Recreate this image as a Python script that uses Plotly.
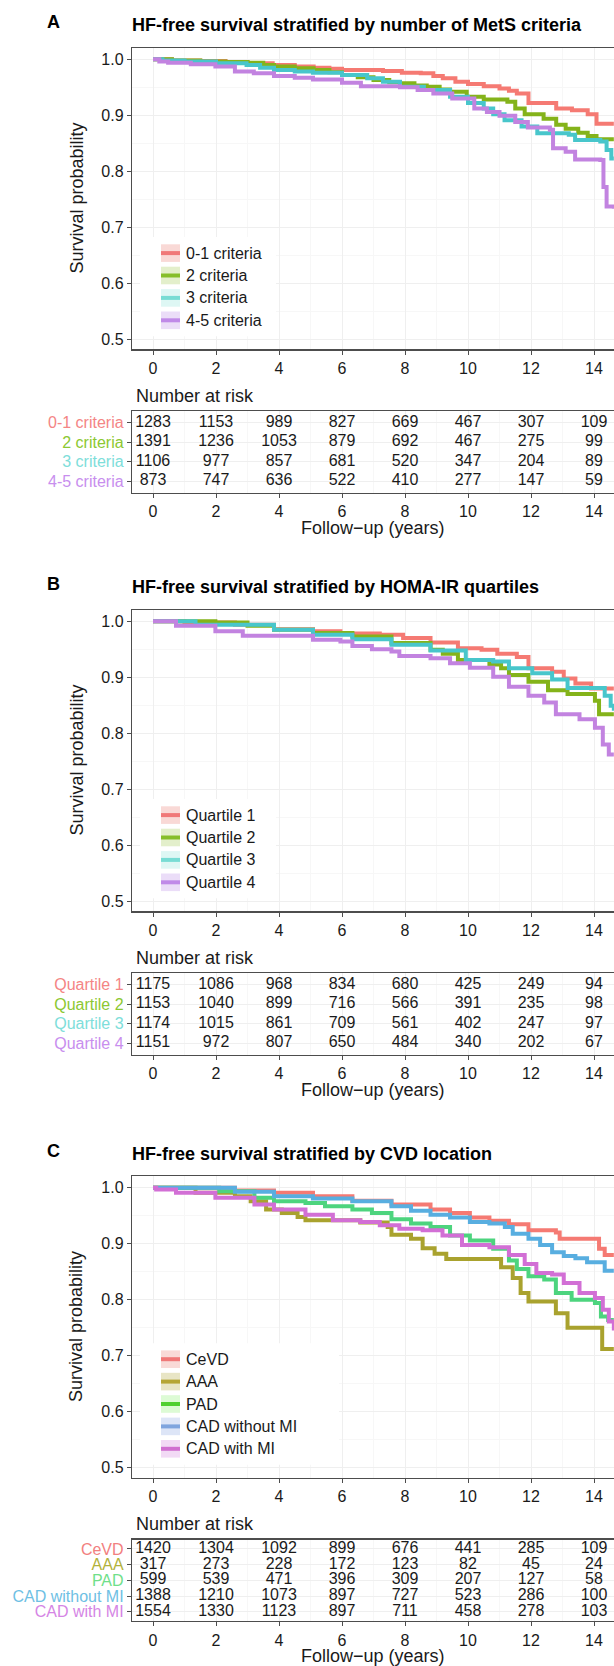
import plotly.graph_objects as go

W, H = 614, 1666
FONT = "Liberation Sans, Arial, Helvetica, sans-serif"

# ---------------- data ----------------
RISK_TIMES = [0, 2, 4, 6, 8, 10, 12, 14]

# Panel A: number of MetS criteria
A_GROUPS = ["0-1 criteria", "2 criteria", "3 criteria", "4-5 criteria"]
A_T = [
    [0, 0.6, 1.5, 2.3, 3.0, 3.8, 4.5, 5.1, 5.6, 6.0, 7.3, 7.9, 8.5, 8.9, 9.2, 9.6, 10.0, 10.5, 11.0, 11.3, 11.55, 11.92, 12.8, 13.3, 13.8, 14.08, 14.63],
    [0, 0.6, 1.5, 2.3, 3.0, 3.5, 3.84, 4.5, 5.1, 5.6, 6.0, 6.5, 7.0, 7.5, 7.84, 8.3, 8.69, 9.1, 9.43, 9.96, 10.5, 11.25, 11.5, 11.8, 12.4, 12.8, 13.1, 13.5, 13.8, 14.08, 14.63],
    [0, 0.3, 1.0, 2.0, 2.97, 3.4, 3.84, 4.5, 5.08, 6.0, 6.8, 7.3, 7.84, 8.6, 9.43, 10.0, 10.5, 10.8, 11.16, 11.7, 12.2, 13.2, 13.4, 14.2, 14.4, 14.55, 14.63],
    [0, 0.2, 0.48, 1.2, 1.98, 2.6, 3.2, 3.84, 4.5, 5.08, 6.0, 6.6, 7.57, 7.84, 8.4, 8.9, 9.5, 10.2, 10.6, 11.0, 11.5, 11.9, 12.6, 12.7, 13.1, 13.4, 14.2, 14.3, 14.4, 14.63],
]
A_S = [
    [1.0, 0.998, 0.997, 0.995, 0.993, 0.990, 0.987, 0.985, 0.983, 0.981, 0.979, 0.976, 0.975, 0.970, 0.966, 0.960, 0.956, 0.952, 0.948, 0.944, 0.939, 0.922, 0.912, 0.909, 0.902, 0.885, 0.885],
    [1.0, 0.998, 0.996, 0.995, 0.994, 0.990, 0.987, 0.984, 0.981, 0.977, 0.972, 0.968, 0.963, 0.959, 0.957, 0.953, 0.951, 0.946, 0.942, 0.933, 0.928, 0.924, 0.912, 0.902, 0.894, 0.883, 0.876, 0.869, 0.863, 0.857, 0.857],
    [1.0, 0.998, 0.996, 0.993, 0.990, 0.985, 0.981, 0.978, 0.976, 0.972, 0.966, 0.960, 0.951, 0.945, 0.933, 0.922, 0.912, 0.902, 0.891, 0.880, 0.868, 0.865, 0.856, 0.853, 0.838, 0.823, 0.823],
    [1.0, 0.996, 0.994, 0.991, 0.987, 0.978, 0.975, 0.970, 0.967, 0.964, 0.958, 0.952, 0.952, 0.950, 0.945, 0.939, 0.930, 0.912, 0.906, 0.899, 0.888, 0.878, 0.874, 0.841, 0.835, 0.821, 0.820, 0.772, 0.737, 0.733],
]
A_RISK = [
    [1283, 1153, 989, 827, 669, 467, 307, 109],
    [1391, 1236, 1053, 879, 692, 467, 275, 99],
    [1106, 977, 857, 681, 520, 347, 204, 89],
    [873, 747, 636, 522, 410, 277, 147, 59],
]

# Panel B: HOMA-IR quartiles
B_GROUPS = ["Quartile 1", "Quartile 2", "Quartile 3", "Quartile 4"]
B_T = [
    [0, 1.0, 2.6, 3.84, 5.08, 5.95, 7.2, 7.94, 8.81, 9.68, 10.43, 10.93, 11.55, 11.92, 12.67, 13.04, 13.41, 13.91, 14.63],
    [0, 1.98, 3.0, 3.84, 5.08, 6.33, 7.57, 8.81, 9.2, 9.68, 10.68, 11.05, 11.3, 11.92, 12.54, 13.16, 14.03, 14.16, 14.63],
    [0, 1.35, 3.84, 5.08, 6.33, 7.57, 8.81, 9.93, 10.8, 11.3, 12.04, 12.67, 13.16, 14.16, 14.34, 14.53, 14.63],
    [0, 0.73, 1.98, 2.85, 5.08, 5.95, 6.33, 6.95, 7.57, 7.82, 8.81, 9.43, 10.06, 10.8, 11.3, 11.92, 12.42, 12.79, 13.54, 14.03, 14.28, 14.47, 14.63],
]
B_S = [
    [1.0, 0.998, 0.994, 0.986, 0.982, 0.978, 0.976, 0.970, 0.962, 0.952, 0.949, 0.942, 0.936, 0.916, 0.910, 0.898, 0.889, 0.880, 0.880],
    [1.0, 0.998, 0.992, 0.985, 0.979, 0.973, 0.961, 0.949, 0.942, 0.931, 0.923, 0.916, 0.904, 0.892, 0.877, 0.870, 0.858, 0.834, 0.834],
    [1.0, 0.994, 0.985, 0.976, 0.968, 0.958, 0.948, 0.931, 0.928, 0.916, 0.907, 0.896, 0.881, 0.881, 0.867, 0.849, 0.840],
    [1.0, 0.992, 0.982, 0.974, 0.967, 0.964, 0.956, 0.950, 0.946, 0.938, 0.934, 0.925, 0.917, 0.901, 0.883, 0.867, 0.855, 0.834, 0.825, 0.810, 0.780, 0.762, 0.762],
]
B_RISK = [
    [1175, 1086, 968, 834, 680, 425, 249, 94],
    [1153, 1040, 899, 716, 566, 391, 235, 98],
    [1174, 1015, 861, 709, 561, 402, 247, 97],
    [1151, 972, 807, 650, 484, 340, 202, 67],
]

# Panel C: CVD location
C_GROUPS = ["CeVD", "AAA", "PAD", "CAD without MI", "CAD with MI"]
C_T = [
    [0, 2.6, 3.84, 5.08, 6.33, 7.57, 8.81, 9.43, 10.06, 10.68, 11.3, 11.92, 12.79, 12.91, 14.03, 14.16, 14.34, 14.63],
    [0, 1.35, 2.6, 3.1, 3.59, 4.09, 4.59, 4.84, 6.58, 7.45, 7.57, 8.19, 8.56, 8.94, 9.31, 10.8, 11.05, 11.42, 11.67, 11.92, 12.73, 12.79, 13.16, 14.22, 14.26, 14.63],
    [0, 0.73, 2.1, 3.22, 3.84, 4.84, 5.46, 6.33, 6.95, 7.57, 8.19, 8.81, 9.43, 10.06, 10.8, 11.3, 11.55, 11.92, 12.42, 12.79, 13.29, 14.03, 14.22, 14.45, 14.63],
    [0, 2.6, 3.84, 5.08, 6.33, 7.57, 8.19, 8.81, 9.43, 10.06, 10.68, 11.17, 11.42, 11.92, 12.29, 12.67, 13.04, 13.41, 13.78, 14.34, 14.63],
    [0, 0.1, 0.73, 1.98, 3.22, 3.84, 4.84, 5.71, 6.58, 7.2, 7.82, 8.56, 9.19, 9.81, 10.68, 11.3, 11.8, 12.17, 12.67, 13.04, 13.54, 14.03, 14.28, 14.47, 14.63],
]
C_S = [
    [1.0, 0.995, 0.991, 0.985, 0.977, 0.970, 0.961, 0.955, 0.947, 0.941, 0.935, 0.924, 0.920, 0.909, 0.909, 0.891, 0.880, 0.880],
    [1.0, 0.991, 0.985, 0.976, 0.961, 0.955, 0.948, 0.942, 0.938, 0.930, 0.916, 0.909, 0.892, 0.882, 0.873, 0.873, 0.858, 0.839, 0.812, 0.797, 0.797, 0.776, 0.750, 0.750, 0.712, 0.712],
    [1.0, 1.0, 0.994, 0.982, 0.976, 0.973, 0.967, 0.961, 0.955, 0.944, 0.936, 0.930, 0.915, 0.906, 0.891, 0.870, 0.855, 0.842, 0.836, 0.812, 0.800, 0.794, 0.770, 0.764, 0.764],
    [1.0, 0.993, 0.985, 0.981, 0.976, 0.967, 0.959, 0.952, 0.947, 0.939, 0.936, 0.930, 0.918, 0.909, 0.898, 0.885, 0.878, 0.874, 0.867, 0.852, 0.852],
    [1.0, 0.997, 0.991, 0.982, 0.970, 0.961, 0.952, 0.942, 0.939, 0.933, 0.927, 0.924, 0.915, 0.898, 0.894, 0.880, 0.864, 0.848, 0.845, 0.830, 0.812, 0.803, 0.782, 0.761, 0.745],
]
C_RISK = [
    [1420, 1304, 1092, 899, 676, 441, 285, 109],
    [317, 273, 228, 172, 123, 82, 45, 24],
    [599, 539, 471, 396, 309, 207, 127, 58],
    [1388, 1210, 1073, 897, 727, 523, 286, 100],
    [1554, 1330, 1123, 897, 711, 458, 278, 103],
]

TITLES = [
    "HF-free survival stratified by number of MetS criteria",
    "HF-free survival stratified by HOMA-IR quartiles",
    "HF-free survival stratified by CVD location",
]
LETTERS = ["A", "B", "C"]

# ---------------- styles ----------------
PAL4_LINE = ["#F57A73", "#84B31A", "#48C6CB", "#C283E0"]
PAL4_KEY = ["#F07878", "#86BE2A", "#78DCD4", "#C08AE8"]
PAL4_KEYBG = ["#F9D9D6", "#E3EFCB", "#DEF7F4", "#EBDDF8"]
PAL4_LAB = ["#F48585", "#8CC832", "#7EDEDA", "#C88EEE"]

PAL5_LINE = ["#F57A73", "#A9A22E", "#4DD47E", "#58AEE0", "#D26FD5"]
PAL5_KEY = ["#F07878", "#B5A535", "#50D030", "#80A5DE", "#D070D0"]
PAL5_KEYBG = ["#F9DAD7", "#E8E5C5", "#DDFBD5", "#DDE5F7", "#F2DAF5"]
PAL5_LAB = ["#F28080", "#B2B23A", "#70DF8A", "#6EC0E4", "#D585E5"]

PANELS = [
    dict(groups=A_GROUPS, t=A_T, s=A_S, risk=A_RISK, line=PAL4_LINE, key=PAL4_KEY, keybg=PAL4_KEYBG, lab=PAL4_LAB, legw=276),
    dict(groups=B_GROUPS, t=B_T, s=B_S, risk=B_RISK, line=PAL4_LINE, key=PAL4_KEY, keybg=PAL4_KEYBG, lab=PAL4_LAB, legw=276),
    dict(groups=C_GROUPS, t=C_T, s=C_S, risk=C_RISK, line=PAL5_LINE, key=PAL5_KEY, keybg=PAL5_KEYBG, lab=PAL5_LAB, legw=339),
]
OFFSETS = [0, 562, 1128.5]

XR = [-0.667, 14.635]
YR = [0.482, 1.0207]
X_LEFT = 132
AXCOL = "#4d4d4d"
TXT = "#1a1a1a"
GRID_MAJ = "#EFEFEF"
GRID_MIN = "#F7F7F7"


def px(x):
    return x / W


def py(y):
    return 1 - y / H


def an(i):
    return "" if i == 1 else str(i)


fig = go.Figure()
shapes = []
annotations = []
layout = {}

for p, P in enumerate(PANELS):
    off = OFFSETS[p]
    ip, it = 2 * p + 1, 2 * p + 2
    n = len(P["groups"])

    # survival curves
    for g in range(n):
        fig.add_trace(go.Scatter(
            x=P["t"][g], y=P["s"][g], mode="lines",
            line=dict(color=P["line"][g], width=4, shape="hv"),
            xaxis="x" + an(ip), yaxis="y" + an(ip),
            showlegend=False, hoverinfo="skip"))

    # risk table numbers
    for g in range(n):
        fig.add_trace(go.Scatter(
            x=RISK_TIMES, y=[g] * len(RISK_TIMES),
            text=[str(v) for v in P["risk"][g]], mode="text",
            textfont=dict(family=FONT, size=16, color=TXT),
            textposition="middle center", cliponaxis=False,
            xaxis="x" + an(it), yaxis="y" + an(it),
            showlegend=False, hoverinfo="skip"))

    common_x = dict(
        domain=[px(X_LEFT), 1], range=XR, tickmode="linear", tick0=0, dtick=2,
        ticks="outside", ticklen=4, tickcolor=AXCOL, tickwidth=1,
        showline=True, linecolor=AXCOL, linewidth=1.2, mirror=True,
        showgrid=True, gridcolor=GRID_MAJ, gridwidth=1, zeroline=False,
        tickfont=dict(family=FONT, size=16, color=TXT),
    )
    layout["xaxis" + an(ip)] = dict(
        common_x, anchor="y" + an(ip),
        minor=dict(dtick=1, tick0=0, showgrid=True, gridcolor=GRID_MIN, gridwidth=1),
    )
    layout["yaxis" + an(ip)] = dict(
        domain=[py(349.3 + off), py(47.7 + off)], range=YR, anchor="x" + an(ip),
        tickmode="linear", tick0=0.5, dtick=0.1, tickformat=".1f",
        ticks="outside", ticklen=4, tickcolor=AXCOL, tickwidth=1,
        showline=True, linecolor=AXCOL, linewidth=1.2, mirror=False,
        showgrid=True, gridcolor=GRID_MAJ, gridwidth=1, zeroline=False,
        minor=dict(dtick=0.05, tick0=0.5, showgrid=True, gridcolor=GRID_MIN, gridwidth=1),
        tickfont=dict(family=FONT, size=16, color=TXT),
    )
    layout["xaxis" + an(it)] = dict(
        common_x, anchor="y" + an(it),
        minor=dict(dtick=1, tick0=0, showgrid=True, gridcolor=GRID_MIN, gridwidth=1),
    )
    layout["yaxis" + an(it)] = dict(
        domain=[py(492.7 + off), py(411 + off)], range=[n - 0.4, -0.6], anchor="x" + an(it),
        tickmode="array", tickvals=list(range(n)),
        ticktext=[f"<span style='color:{P['lab'][g]}'>{P['groups'][g]}</span>" for g in range(n)],
        ticks="outside", ticklen=4, tickcolor=AXCOL, tickwidth=1,
        showline=True, linecolor=AXCOL, linewidth=1.2, mirror=False,
        showgrid=True, gridcolor=GRID_MAJ, gridwidth=1, zeroline=False,
        tickfont=dict(family=FONT, size=16, color=TXT),
    )

    # titles and labels
    annotations.append(dict(text="<b>" + LETTERS[p] + "</b>", x=px(45), y=py(22.3 + off),
                            xref="paper", yref="paper", xanchor="left", yanchor="middle",
                            showarrow=False, font=dict(family=FONT, size=18, color="#000000")))
    annotations.append(dict(text="<b>" + TITLES[p] + "</b>", x=px(130), y=py(25 + off),
                            xref="paper", yref="paper", xanchor="left", yanchor="middle",
                            showarrow=False, font=dict(family=FONT, size=18, color="#000000")))
    annotations.append(dict(text="Survival probability", x=px(76), y=py(198.5 + off),
                            xref="paper", yref="paper", xanchor="center", yanchor="middle",
                            textangle=-90, showarrow=False,
                            font=dict(family=FONT, size=18, color=TXT)))
    annotations.append(dict(text="Number at risk", x=px(134), y=py(395.7 + off),
                            xref="paper", yref="paper", xanchor="left", yanchor="middle",
                            showarrow=False, font=dict(family=FONT, size=18, color=TXT)))
    annotations.append(dict(text="Follow\u2212up (years)", x=px(373), y=py(527.5 + off),
                            xref="paper", yref="paper", xanchor="center", yanchor="middle",
                            showarrow=False, font=dict(family=FONT, size=18, color=TXT)))

    # legend (inside plot, bottom-left)
    item_y = [320.3 - 22.4 * (n - 1 - g) for g in range(n)]
    top = item_y[0] - 16 + off
    bot = item_y[-1] + 16 + off
    shapes.append(dict(type="rect", xref="paper", yref="paper",
                       x0=px(140), x1=px(P["legw"]), y0=py(bot), y1=py(top),
                       fillcolor="white", line=dict(width=0), layer="above"))
    for g in range(n):
        yc = item_y[g] + off
        shapes.append(dict(type="rect", xref="paper", yref="paper",
                           x0=px(161), x1=px(180), y0=py(yc + 8.8), y1=py(yc - 8.8),
                           fillcolor=P["keybg"][g], line=dict(width=0), layer="above"))
        shapes.append(dict(type="line", xref="paper", yref="paper",
                           x0=px(161), x1=px(180), y0=py(yc), y1=py(yc),
                           line=dict(color=P["key"][g], width=4), layer="above"))
        annotations.append(dict(text=P["groups"][g], x=px(184), y=py(yc),
                                xref="paper", yref="paper", xanchor="left", yanchor="middle",
                                showarrow=False, font=dict(family=FONT, size=16, color=TXT)))

fig.update_layout(
    width=W, height=H, margin=dict(l=0, r=0, t=0, b=0),
    paper_bgcolor="white", plot_bgcolor="white",
    showlegend=False, shapes=shapes, annotations=annotations,
    font=dict(family=FONT, size=16, color=TXT),
    hovermode=False, dragmode=False,
    **layout,
)

fig.write_html(
    "out.html",
    config={"displayModeBar": False, "staticPlot": True},
    post_script="document.body.style.margin='0';document.body.style.padding='0';document.body.style.overflow='hidden';",
)
